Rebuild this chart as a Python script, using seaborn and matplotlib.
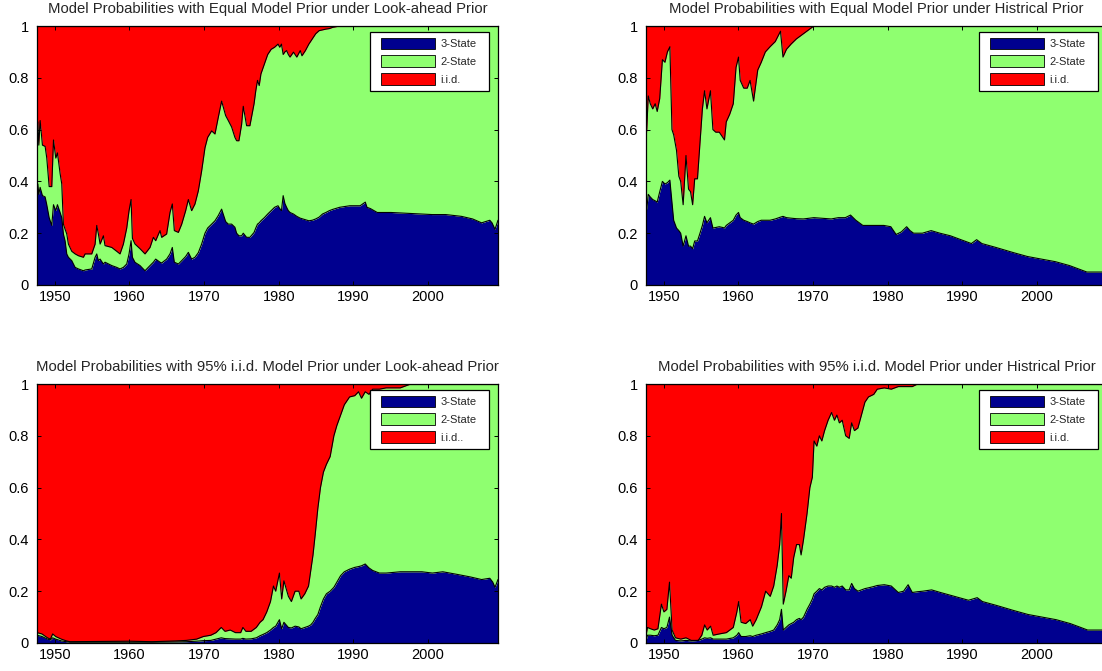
import numpy as np
import pandas as pd
import matplotlib
matplotlib.use("Agg")
import matplotlib.pyplot as plt
from matplotlib.patches import Patch
from matplotlib.path import Path
import seaborn as sns

# ---------------- data ----------------
titles = [
    "Model Probabilities with Equal Model Prior under Look-ahead Prior",
    "Model Probabilities with Equal Model Prior under Histrical Prior",
    "Model Probabilities with 95% i.i.d. Model Prior under Look-ahead Prior",
    "Model Probabilities with 95% i.i.d. Model Prior under Histrical Prior",
]
series_names = ["3-State", "2-State", "i.i.d."]
legend_labels_c = ["3-State", "2-State", "i.i.d.."]
x_ticks = [1950, 1960, 1970, 1980, 1990, 2000]
x_tick_labels = ["1950", "1960", "1970", "1980", "1990", "2000"]
y_ticks = [0, 0.2, 0.4, 0.6, 0.8, 1.0]
y_tick_labels = ["0", "0.2", "0.4", "0.6", "0.8", "1"]

# Panel A: equal prior, look-ahead
yr_a = [1947.60, 1947.71, 1947.84, 1948.02, 1948.33, 1948.69, 1948.91, 1949.23, 1949.58, 1949.81,
        1950.12, 1950.34, 1950.70, 1950.92, 1951.14, 1951.37, 1951.59, 1951.81, 1952.26, 1952.71,
        1953.15, 1953.82, 1954.05, 1954.94, 1955.39, 1955.61, 1955.83, 1956.06, 1956.50, 1956.72,
        1957.62, 1958.29, 1958.73, 1959.18, 1959.63, 1959.94, 1960.21, 1960.39, 1960.74, 1961.41,
        1962.08, 1962.75, 1963.20, 1963.51, 1964.09, 1964.31, 1964.98, 1965.43, 1965.74, 1966.01,
        1966.55, 1967.00, 1967.53, 1967.89, 1968.33, 1968.78, 1969.23, 1969.67, 1970.12, 1970.48,
        1971.01, 1971.46, 1971.90, 1972.35, 1972.89, 1973.24, 1973.69, 1974.13, 1974.36, 1974.67,
        1975.03, 1975.25, 1975.70, 1976.14, 1976.70, 1976.93, 1977.16, 1977.39, 1977.62, 1978.08,
        1978.53, 1978.99, 1979.45, 1979.91, 1980.14, 1980.37, 1980.60, 1980.83, 1981.06, 1981.29,
        1981.52, 1981.98, 1982.43, 1982.89, 1983.12, 1983.58, 1984.04, 1984.50, 1984.96, 1985.42,
        1985.87, 1986.33, 1986.79, 1987.25, 1988.17, 1989.54, 1990.92, 1991.61, 1991.84, 1992.30,
        1993.21, 1995.05, 1997.80, 2000.55, 2002.39, 2004.50, 2006.00, 2007.20, 2008.30, 2008.60,
        2009.00, 2009.40]
p3_a = [0.30, 0.39, 0.35, 0.377, 0.345, 0.34, 0.31, 0.26, 0.23, 0.31,
        0.287, 0.31, 0.28, 0.26, 0.197, 0.17, 0.12, 0.107, 0.094, 0.068,
        0.062, 0.055, 0.058, 0.062, 0.107, 0.12, 0.094, 0.10, 0.081, 0.088,
        0.075, 0.068, 0.062, 0.068, 0.081, 0.12, 0.171, 0.107, 0.0875, 0.075,
        0.055, 0.075, 0.088, 0.10, 0.088, 0.085, 0.10, 0.12, 0.145, 0.088,
        0.081, 0.094, 0.11, 0.126, 0.10, 0.107, 0.125, 0.158, 0.20, 0.22,
        0.235, 0.248, 0.268, 0.293, 0.245, 0.235, 0.235, 0.223, 0.20, 0.19,
        0.19, 0.20, 0.184, 0.184, 0.203, 0.22, 0.235, 0.24, 0.248, 0.26,
        0.274, 0.287, 0.30, 0.306, 0.295, 0.287, 0.345, 0.315, 0.30, 0.287,
        0.28, 0.274, 0.265, 0.258, 0.256, 0.252, 0.248, 0.25, 0.255, 0.262,
        0.274, 0.28, 0.287, 0.292, 0.30, 0.306, 0.306, 0.32, 0.30, 0.295,
        0.28, 0.28, 0.276, 0.272, 0.272, 0.265, 0.255, 0.24, 0.25, 0.24,
        0.215, 0.25]
iid_a = [0.44, 0.37, 0.46, 0.365, 0.46, 0.465, 0.51, 0.62, 0.62, 0.44,
         0.51, 0.49, 0.57, 0.61, 0.765, 0.785, 0.803, 0.842, 0.87, 0.88,
         0.887, 0.893, 0.88, 0.88, 0.842, 0.77, 0.803, 0.842, 0.81, 0.848,
         0.855, 0.87, 0.88, 0.842, 0.78, 0.713, 0.67, 0.82, 0.842, 0.86,
         0.88, 0.855, 0.816, 0.829, 0.79, 0.816, 0.803, 0.72, 0.687, 0.79,
         0.797, 0.765, 0.713, 0.67, 0.713, 0.687, 0.636, 0.56, 0.47, 0.43,
         0.405, 0.417, 0.353, 0.29, 0.346, 0.365, 0.39, 0.43, 0.443, 0.443,
         0.38, 0.31, 0.385, 0.385, 0.30, 0.25, 0.21, 0.23, 0.185, 0.147,
         0.11, 0.09, 0.082, 0.07, 0.082, 0.07, 0.11, 0.10, 0.095, 0.11,
         0.12, 0.101, 0.12, 0.095, 0.115, 0.095, 0.07, 0.05, 0.03, 0.018,
         0.015, 0.012, 0.01, 0.005, 0.0, 0.0, 0.0, 0.0, 0.0, 0.0,
         0.0, 0.0, 0.0, 0.0, 0.0, 0.0, 0.0, 0.0, 0.0, 0.0,
         0.0, 0.0]

# Panel B: equal prior, historical
yr_b = [1947.60, 1947.70, 1947.90, 1948.17, 1948.50, 1948.83, 1949.10, 1949.44, 1949.80, 1950.14,
        1950.47, 1950.80, 1951.08, 1951.31, 1951.69, 1952.00, 1952.25, 1952.58, 1952.96, 1953.30,
        1953.57, 1953.85, 1954.13, 1954.50, 1954.84, 1955.16, 1955.45, 1955.77, 1956.24, 1956.57,
        1956.95, 1957.42, 1957.89, 1958.12, 1958.36, 1958.83, 1959.30, 1959.67, 1960.00, 1960.23,
        1960.70, 1961.17, 1961.55, 1962.02, 1962.58, 1963.05, 1963.60, 1964.23, 1964.93, 1965.63,
        1965.96, 1966.43, 1967.04, 1967.75, 1968.69, 1970.10, 1972.44, 1973.38, 1974.32, 1975.02,
        1975.73, 1976.67, 1979.48, 1980.42, 1981.13, 1981.83, 1982.54, 1983.00, 1983.47, 1984.65,
        1985.82, 1987.00, 1988.40, 1989.81, 1991.22, 1991.92, 1992.63, 1994.50, 1996.85, 1998.73,
        2000.60, 2002.49, 2004.37, 2005.77, 2006.70, 2009.40]
p3_b = [0.38, 0.29, 0.35, 0.34, 0.33, 0.325, 0.32, 0.36, 0.40, 0.39,
        0.395, 0.405, 0.32, 0.25, 0.22, 0.21, 0.20, 0.15, 0.19, 0.15,
        0.15, 0.14, 0.17, 0.17, 0.20, 0.23, 0.265, 0.24, 0.26, 0.22,
        0.222, 0.225, 0.222, 0.22, 0.23, 0.24, 0.25, 0.27, 0.28, 0.26,
        0.25, 0.245, 0.24, 0.235, 0.245, 0.25, 0.25, 0.25, 0.255, 0.262,
        0.265, 0.26, 0.258, 0.256, 0.255, 0.26, 0.255, 0.26, 0.26, 0.27,
        0.25, 0.23, 0.23, 0.225, 0.195, 0.205, 0.225, 0.21, 0.20, 0.20,
        0.21, 0.20, 0.19, 0.175, 0.16, 0.175, 0.16, 0.145, 0.125, 0.11,
        0.10, 0.09, 0.075, 0.06, 0.05, 0.05]
iid_b = [0.43, 0.40, 0.27, 0.30, 0.32, 0.30, 0.33, 0.28, 0.13, 0.14,
         0.10, 0.08, 0.40, 0.42, 0.48, 0.58, 0.60, 0.69, 0.50, 0.63,
         0.64, 0.69, 0.59, 0.59, 0.45, 0.32, 0.25, 0.32, 0.25, 0.40,
         0.41, 0.41, 0.43, 0.44, 0.37, 0.34, 0.30, 0.16, 0.12, 0.21,
         0.24, 0.24, 0.21, 0.29, 0.17, 0.14, 0.10, 0.08, 0.06, 0.02,
         0.12, 0.09, 0.07, 0.05, 0.03, 0.0, 0.0, 0.0, 0.0, 0.0,
         0.0, 0.0, 0.0, 0.0, 0.0, 0.0, 0.0, 0.0, 0.0, 0.0,
         0.0, 0.0, 0.0, 0.0, 0.0, 0.0, 0.0, 0.0, 0.0, 0.0,
         0.0, 0.0, 0.0, 0.0, 0.0, 0.0]

# Panel C: 95% i.i.d. prior, look-ahead
yr_c = [1947.60, 1948.26, 1949.00, 1949.40, 1949.70, 1950.10, 1950.85, 1951.55, 1952.00, 1956.00,
        1960.00, 1963.00, 1966.20, 1967.60, 1969.00, 1969.90, 1970.90, 1971.60, 1972.30, 1972.80,
        1973.50, 1974.20, 1974.90, 1975.20, 1975.60, 1976.30, 1977.00, 1977.50, 1977.90, 1978.40,
        1978.90, 1979.30, 1979.60, 1980.10, 1980.40, 1980.70, 1981.00, 1981.30, 1981.70, 1982.20,
        1982.70, 1983.00, 1983.50, 1984.00, 1984.30, 1984.60, 1984.90, 1985.25, 1985.60, 1986.00,
        1986.40, 1986.90, 1987.40, 1987.80, 1988.30, 1988.80, 1989.50, 1990.20, 1990.70, 1991.10,
        1991.60, 1992.10, 1992.60, 1993.50, 1994.40, 1996.30, 1997.70, 1999.20, 2000.60, 2002.00,
        2003.90, 2005.70, 2007.20, 2008.30, 2008.70, 2009.00, 2009.40]
p3_c = [0.03, 0.025, 0.015, 0.012, 0.02, 0.015, 0.008, 0.005, 0.003, 0.003,
        0.003, 0.003, 0.004, 0.005, 0.007, 0.009, 0.01, 0.015, 0.02, 0.017,
        0.016, 0.015, 0.015, 0.018, 0.015, 0.016, 0.02, 0.028, 0.033, 0.04,
        0.05, 0.06, 0.065, 0.09, 0.055, 0.08, 0.07, 0.06, 0.058, 0.065,
        0.062, 0.055, 0.06, 0.065, 0.07, 0.08, 0.095, 0.11, 0.14, 0.17,
        0.19, 0.20, 0.215, 0.235, 0.26, 0.275, 0.285, 0.292, 0.295, 0.298,
        0.305, 0.29, 0.28, 0.27, 0.27, 0.275, 0.275, 0.275, 0.27, 0.275,
        0.265, 0.255, 0.245, 0.25, 0.235, 0.215, 0.245]
iid_c = [0.96, 0.965, 0.98, 0.985, 0.965, 0.975, 0.985, 0.992, 0.995, 0.994,
         0.993, 0.995, 0.992, 0.99, 0.985, 0.975, 0.97, 0.96, 0.94, 0.955,
         0.95, 0.96, 0.96, 0.94, 0.955, 0.955, 0.94, 0.92, 0.91, 0.88,
         0.84, 0.78, 0.80, 0.73, 0.83, 0.76, 0.79, 0.82, 0.84, 0.80,
         0.80, 0.83, 0.81, 0.78, 0.72, 0.66, 0.58, 0.48, 0.40, 0.34,
         0.31, 0.28, 0.20, 0.16, 0.12, 0.08, 0.05, 0.045, 0.03, 0.055,
         0.03, 0.04, 0.02, 0.02, 0.015, 0.015, 0.0, 0.0, 0.0, 0.0,
         0.0, 0.0, 0.0, 0.0, 0.0, 0.0, 0.0]

# Panel D: 95% i.i.d. prior, historical
yr_d = [1947.60, 1947.80, 1948.20, 1948.70, 1949.20, 1949.67, 1950.00, 1950.40, 1950.75, 1951.10,
        1951.55, 1952.26, 1952.96, 1953.67, 1954.60, 1955.08, 1955.46, 1955.80, 1956.26, 1956.60,
        1957.43, 1958.37, 1959.30, 1959.78, 1960.02, 1960.35, 1960.96, 1961.57, 1961.90, 1962.37,
        1963.08, 1963.64, 1964.25, 1964.72, 1965.19, 1965.52, 1965.76, 1966.00, 1966.37, 1966.75,
        1967.07, 1967.40, 1967.78, 1968.16, 1968.39, 1968.72, 1969.19, 1969.57, 1969.90, 1970.13,
        1970.50, 1970.84, 1971.17, 1971.54, 1972.01, 1972.48, 1972.86, 1973.19, 1973.52, 1973.90,
        1974.37, 1974.84, 1975.17, 1975.54, 1976.01, 1976.48, 1976.95, 1977.42, 1978.13, 1978.60,
        1979.54, 1980.48, 1981.42, 1982.13, 1982.74, 1983.30, 1984.00, 1984.71, 1985.89, 1987.07,
        1988.95, 1990.83, 1992.00, 1992.70, 1994.59, 1996.94, 1998.82, 2000.70, 2002.59, 2004.47,
        2005.88, 2006.80, 2009.40]
p3_d = [0.01, 0.03, 0.03, 0.028, 0.03, 0.06, 0.055, 0.06, 0.10, 0.03,
        0.01, 0.008, 0.01, 0.008, 0.01, 0.015, 0.02, 0.018, 0.02, 0.015,
        0.015, 0.015, 0.02, 0.03, 0.04, 0.025, 0.025, 0.028, 0.025, 0.03,
        0.035, 0.04, 0.045, 0.05, 0.07, 0.09, 0.13, 0.05, 0.06, 0.07,
        0.075, 0.08, 0.09, 0.095, 0.09, 0.10, 0.13, 0.15, 0.17, 0.19,
        0.20, 0.21, 0.205, 0.215, 0.22, 0.22, 0.215, 0.22, 0.215, 0.22,
        0.205, 0.205, 0.23, 0.21, 0.20, 0.205, 0.21, 0.213, 0.218, 0.222,
        0.225, 0.22, 0.195, 0.20, 0.225, 0.195, 0.198, 0.20, 0.205, 0.195,
        0.18, 0.165, 0.175, 0.16, 0.145, 0.125, 0.11, 0.10, 0.09, 0.075,
        0.06, 0.05, 0.05]
iid_d = [0.97, 0.94, 0.945, 0.95, 0.945, 0.85, 0.88, 0.87, 0.765, 0.95,
         0.98, 0.985, 0.98, 0.99, 0.99, 0.97, 0.93, 0.95, 0.935, 0.97,
         0.965, 0.96, 0.94, 0.88, 0.84, 0.92, 0.925, 0.91, 0.935, 0.91,
         0.86, 0.80, 0.82, 0.78, 0.70, 0.62, 0.50, 0.85, 0.80, 0.74,
         0.75, 0.67, 0.62, 0.62, 0.66, 0.60, 0.50, 0.40, 0.36, 0.22,
         0.24, 0.20, 0.22, 0.18, 0.14, 0.11, 0.14, 0.12, 0.15, 0.14,
         0.20, 0.21, 0.15, 0.18, 0.17, 0.12, 0.07, 0.05, 0.04, 0.02,
         0.015, 0.02, 0.01, 0.01, 0.01, 0.01, 0.0, 0.0, 0.0, 0.0,
         0.0, 0.0, 0.0, 0.0, 0.0, 0.0, 0.0, 0.0, 0.0, 0.0,
         0.0, 0.0, 0.0]

# ---------------- styling ----------------
sns.set_theme(style="ticks")
plt.rcParams['font.family'] = ['Liberation Sans', 'DejaVu Sans']
plt.rcParams.update({
    "xtick.direction": "in", "ytick.direction": "in",
    "xtick.top": True, "ytick.right": True,
    "xtick.major.size": 3, "ytick.major.size": 3,
    "xtick.major.width": 0.7, "ytick.major.width": 0.7,
    "axes.linewidth": 0.9, "axes.edgecolor": "black",
    "xtick.color": "black", "ytick.color": "black",
    "xtick.labelsize": 10.5, "ytick.labelsize": 10.5,
})

colors = ["#00008F", "#8FFF70", "#FF0000"]

W, H = 1102, 671
fig = plt.figure(figsize=(W / 100, H / 100), dpi=100)

LEG_FS = 8.0
EXTRA_L = 0.5   # extra frame padding on the left (in legend font sizes)
EXTRA_R = 0.6   # extra frame padding on the right


def wide_square(x0, y0, width, height, mutation_size):
    """Square legend frame with extra horizontal padding only."""
    l = x0 - EXTRA_L * mutation_size
    r = x0 + width + EXTRA_R * mutation_size
    b, t = y0, y0 + height
    return Path([(l, b), (r, b), (r, t), (l, t), (l, b)], closed=True)


def rect(x, ytop, w, h):
    return [x / W, 1 - (ytop + h) / H, w / W, h / H]


AX_W, AX_H = 461, 259
panels = [
    (yr_a, p3_a, iid_a, titles[0], series_names, rect(37, 26, AX_W, AX_H)),
    (yr_b, p3_b, iid_b, titles[1], series_names, rect(646, 26, AX_W, AX_H)),
    (yr_c, p3_c, iid_c, titles[2], legend_labels_c, rect(37, 384, AX_W, AX_H)),
    (yr_d, p3_d, iid_d, titles[3], series_names, rect(646, 384, AX_W, AX_H)),
]

for yrs, p3, iid, title, labels, pos in panels:
    ax = fig.add_axes(pos)
    df = pd.DataFrame({"year": yrs, "p3": p3, "iid": iid})
    df["p2"] = 1.0 - df["p3"] - df["iid"]
    df["top"] = df["p3"] + df["p2"]
    df["one"] = 1.0
    ax.stackplot(df["year"], df["p3"], df["p2"], df["iid"], colors=colors, linewidth=0)
    for col in ["p3", "top", "one"]:
        sns.lineplot(data=df, x="year", y=col, color="black", linewidth=0.8,
                     ax=ax, legend=False, estimator=None)
    ax.set_xlim(1947.6, 2009.4)
    ax.set_ylim(0, 1)
    ax.set_xticks(x_ticks)
    ax.set_xticklabels(x_tick_labels)
    ax.set_yticks(y_ticks)
    ax.set_yticklabels(y_tick_labels)
    ax.tick_params(axis="x", pad=3.5)
    ax.tick_params(axis="y", pad=6)
    ax.set_xlabel("")
    ax.set_ylabel("")
    ax.set_axisbelow(False)
    ax.set_title(title, fontsize=10.7, pad=9.5)
    handles = [Patch(facecolor=c, edgecolor="black", linewidth=0.6, label=l)
               for c, l in zip(colors, labels)]
    right_off = 9 + EXTRA_R * LEG_FS * 100 / 72
    leg = ax.legend(handles=handles, loc="upper right",
                    bbox_to_anchor=(1 - right_off / AX_W, 1 - 6 / AX_H), borderaxespad=0,
                    fontsize=LEG_FS, handlelength=38.5 / LEG_FS,
                    handleheight=1.25, labelspacing=0.55, handletextpad=0.55,
                    borderpad=0.5, fancybox=False, framealpha=1, edgecolor="black")
    leg.get_frame().set_boxstyle(wide_square)
    leg.get_frame().set_linewidth(0.9)

fig.savefig("out.png", dpi=100)
